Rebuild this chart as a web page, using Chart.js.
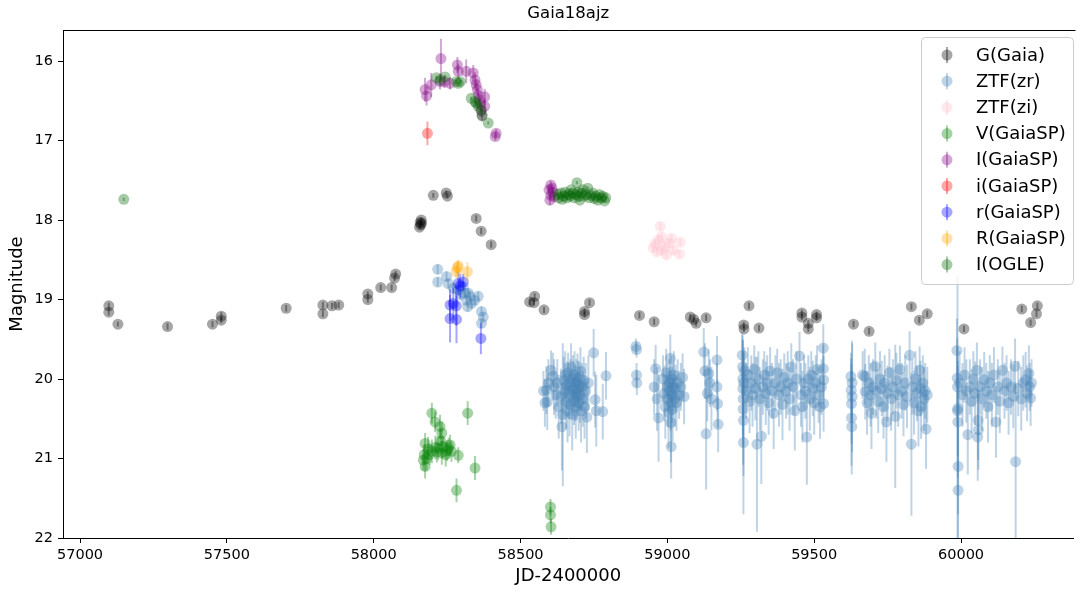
<!DOCTYPE html>
<html>
<head>
<meta charset="utf-8">
<script src="https://cdn.jsdelivr.net/npm/chart.js@4.4.1/dist/chart.umd.min.js"></script>
<style>
  html, body { margin: 0; background: #fff; }
  #wrap { width: 1079px; height: 591px; position: relative; }
</style>
</head>
<body>
<div id="wrap"><canvas id="lc"></canvas></div>
<script>
/* Gaia18ajz light curve: magnitude (reversed) vs JD-2400000, points with error bars */

const X_TICKS = [57000, 57500, 58000, 58500, 59000, 59500, 60000];
const Y_TICKS = [16, 17, 18, 19, 20, 21, 22];

// each row: [JD-2400000, mag, err]
const gaiaG = [
  [57098, 19.08, 0.04], [57098, 19.16, 0.04], [57129, 19.31, 0.03], [57298, 19.34, 0.04],
  [57451, 19.31, 0.04], [57481, 19.21, 0.05], [57481, 19.26, 0.04], [57702, 19.11, 0.04],
  [57827, 19.07, 0.04], [57827, 19.18, 0.04], [57858, 19.08, 0.04], [57881, 19.07, 0.04],
  [57980, 18.93, 0.03], [57980, 19.00, 0.04], [58024, 18.85, 0.04], [58061, 18.85, 0.04],
  [58071, 18.73, 0.04], [58075, 18.68, 0.04], [58156, 18.09, 0.03], [58158, 18.03, 0.03],
  [58160, 18.06, 0.03], [58162, 18.00, 0.03], [58163, 18.04, 0.03], [58203, 17.69, 0.03],
  [58247, 17.66, 0.03], [58251, 17.70, 0.03], [58349, 17.98, 0.04], [58366, 18.14, 0.04],
  [58400, 18.31, 0.04], [58531, 19.03, 0.04], [58548, 18.96, 0.04], [58546, 19.04, 0.04],
  [58580, 19.13, 0.04], [58735, 19.04, 0.04], [58718, 19.15, 0.04], [58718, 19.19, 0.04],
  [58905, 19.20, 0.04], [58955, 19.28, 0.04], [59078, 19.22, 0.04], [59090, 19.25, 0.04],
  [59098, 19.30, 0.04], [59132, 19.23, 0.04], [59278, 19.08, 0.04], [59260, 19.32, 0.04],
  [59261, 19.37, 0.04], [59312, 19.36, 0.04], [59458, 19.17, 0.04], [59458, 19.22, 0.04],
  [59480, 19.30, 0.04], [59480, 19.37, 0.04], [59508, 19.19, 0.04], [59508, 19.23, 0.04],
  [59634, 19.31, 0.04], [59687, 19.40, 0.04], [59831, 19.09, 0.04], [59858, 19.26, 0.04],
  [59885, 19.18, 0.04], [60010, 19.37, 0.04], [60207, 19.12, 0.04], [60260, 19.08, 0.04],
  [60257, 19.18, 0.04], [60237, 19.29, 0.04]
];

const ztfZr = [
  // 2018 outburst
  [58218, 18.62, 0.06], [58218, 18.78, 0.06], [58248, 18.71, 0.06], [58254, 18.80, 0.06],
  [58271, 18.86, 0.06], [58288, 18.88, 0.06], [58295, 18.94, 0.06], [58305, 18.84, 0.06],
  [58311, 18.92, 0.06], [58316, 19.01, 0.06], [58320, 19.09, 0.06], [58322, 18.92, 0.06],
  [58328, 18.96, 0.06], [58333, 19.05, 0.06], [58344, 19.01, 0.06], [58356, 18.96, 0.06],
  [58367, 19.15, 0.06], [58373, 19.22, 0.06], [58367, 19.30, 0.06],
  // 2019
  [58578, 20.15, 0.25], [58583, 20.30, 0.3], [58588, 20.14, 0.3], [58591, 20.29, 0.35],
  [58595, 20.05, 0.3], [58604, 19.89, 0.25], [58610, 19.97, 0.3], [58614, 20.10, 0.35],
  [58620, 20.20, 0.3], [58625, 20.05, 0.3], [58630, 20.35, 0.4], [58638, 20.22, 0.35],
  [58641, 20.60, 0.55], [58644, 20.45, 0.9], [58647, 20.02, 0.3], [58650, 20.15, 0.35],
  [58652, 19.95, 0.3], [58655, 20.28, 0.35], [58658, 20.08, 0.3], [58660, 20.40, 0.4],
  [58662, 19.92, 0.25], [58665, 20.15, 0.35], [58667, 20.32, 0.4], [58670, 20.05, 0.3],
  [58672, 19.85, 0.3], [58674, 20.20, 0.3], [58676, 20.45, 0.45], [58678, 20.00, 0.3],
  [58680, 20.12, 0.35], [58682, 20.28, 0.3], [58684, 19.95, 0.3], [58686, 20.18, 0.35],
  [58688, 20.35, 0.4], [58690, 20.05, 0.3], [58692, 20.22, 0.3], [58694, 19.98, 0.3],
  [58696, 20.12, 0.35], [58698, 20.30, 0.35], [58700, 20.08, 0.3], [58702, 20.20, 0.35],
  [58704, 19.90, 0.3], [58706, 20.40, 0.4], [58709, 20.10, 0.3], [58712, 20.25, 0.35],
  [58715, 20.02, 0.3], [58718, 20.35, 0.4], [58722, 20.15, 0.35], [58726, 20.48, 0.45],
  [58731, 20.05, 0.35], [58749, 19.67, 0.3], [58754, 20.26, 0.35], [58758, 20.40, 0.45],
  [58780, 20.41, 0.35], [58791, 19.96, 0.3],
  // 2020
  [58893, 19.59, 0.1], [58895, 19.63, 0.1], [58895, 19.95, 0.15], [58896, 20.05, 0.15],
  [58955, 20.10, 0.35], [58960, 19.87, 0.3], [58965, 20.25, 0.4], [58970, 20.49, 0.55],
  [58985, 20.00, 0.3], [58990, 20.18, 0.35], [58993, 20.35, 0.4], [58996, 19.92, 0.3],
  [58999, 20.10, 0.3], [59002, 20.25, 0.35], [59004, 20.42, 0.45], [59006, 20.05, 0.3],
  [59008, 20.15, 0.3], [59010, 19.74, 0.3], [59011, 20.30, 0.35], [59012, 20.55, 0.5],
  [59013, 20.85, 0.4], [59014, 20.00, 0.3], [59016, 20.20, 0.35], [59018, 20.38, 0.4],
  [59020, 20.10, 0.3], [59022, 19.95, 0.3], [59025, 20.25, 0.35], [59028, 20.12, 0.3],
  [59031, 20.30, 0.35], [59035, 20.05, 0.3], [59040, 20.20, 0.3], [59046, 20.10, 0.3],
  [59052, 19.98, 0.3], [59057, 20.22, 0.35],
  [59124, 19.66, 0.3], [59128, 19.90, 0.35], [59132, 20.69, 0.7], [59136, 20.18, 0.35],
  [59141, 19.93, 0.3], [59145, 20.05, 0.3], [59150, 20.25, 0.4], [59169, 19.76, 0.3],
  [59169, 20.10, 0.3], [59171, 20.31, 0.3], [59173, 20.57, 0.35],
  // 2021
  [59255, 19.70, 0.3], [59256, 19.85, 0.4], [59257, 20.00, 0.5], [59257, 20.12, 0.6],
  [59258, 20.25, 0.6], [59258, 20.38, 0.7], [59259, 20.52, 0.7], [59259, 20.80, 0.9],
  [59260, 20.05, 0.4], [59262, 19.90, 0.3], [59268, 20.15, 0.35], [59274, 19.95, 0.35],
  [59280, 20.28, 0.4], [59286, 20.05, 0.35], [59290, 20.20, 0.4], [59296, 19.88, 0.3],
  [59300, 20.12, 0.4], [59305, 20.82, 1.1], [59310, 20.00, 0.35], [59315, 20.25, 0.4],
  [59320, 20.72, 0.6], [59325, 20.10, 0.35], [59330, 19.95, 0.3], [59335, 20.18, 0.4],
  [59340, 20.05, 0.35], [59345, 20.30, 0.4], [59350, 19.90, 0.3], [59356, 20.15, 0.35],
  [59362, 20.43, 0.45], [59368, 20.05, 0.35], [59374, 19.92, 0.3], [59380, 20.20, 0.4],
  [59386, 20.10, 0.35], [59392, 20.32, 0.45], [59398, 19.98, 0.3], [59404, 20.15, 0.35],
  [59410, 20.05, 0.4], [59416, 20.25, 0.4], [59422, 19.85, 0.3], [59428, 20.10, 0.35],
  [59434, 20.40, 0.5], [59440, 20.00, 0.35], [59450, 19.71, 0.3], [59455, 20.20, 0.4],
  [59460, 20.35, 0.45], [59465, 20.05, 0.35], [59470, 20.15, 0.35], [59475, 20.73, 0.6],
  [59480, 20.00, 0.3], [59485, 20.25, 0.4], [59490, 19.95, 0.3], [59495, 20.12, 0.35],
  [59500, 20.30, 0.4], [59505, 20.05, 0.35], [59510, 19.88, 0.3], [59515, 20.20, 0.35],
  [59520, 20.35, 0.4], [59525, 20.10, 0.35], [59531, 19.61, 0.3], [59531, 19.87, 0.3],
  [59532, 20.01, 0.3], [59532, 20.31, 0.35],
  // 2022
  [59625, 19.97, 0.3], [59626, 20.14, 0.4], [59627, 20.31, 0.5], [59627, 20.49, 0.6],
  [59628, 20.60, 0.6], [59629, 20.05, 0.5], [59629, 20.22, 0.7], [59665, 19.95, 0.3],
  [59672, 19.97, 0.35], [59674, 20.16, 0.35], [59680, 20.30, 0.4], [59686, 20.05, 0.35],
  [59692, 20.20, 0.4], [59695, 20.43, 0.45], [59700, 20.10, 0.35], [59708, 19.84, 0.3],
  [59712, 20.15, 0.35], [59718, 20.28, 0.4], [59724, 20.00, 0.35], [59730, 20.12, 0.35],
  [59736, 20.35, 0.4], [59740, 20.05, 0.35], [59746, 20.54, 0.5], [59750, 20.18, 0.35],
  [59756, 19.92, 0.3], [59762, 20.25, 0.4], [59768, 20.10, 0.35], [59776, 20.47, 0.9],
  [59780, 20.02, 0.35], [59786, 20.20, 0.4], [59792, 19.88, 0.3], [59798, 20.15, 0.35],
  [59804, 20.32, 0.4], [59810, 20.05, 0.35], [59816, 20.22, 0.4], [59825, 19.70, 0.3],
  [59831, 20.82, 0.9], [59834, 20.10, 0.35], [59840, 20.30, 0.4], [59845, 20.00, 0.35],
  [59850, 20.18, 0.35], [59855, 20.40, 0.45], [59859, 19.89, 0.3], [59862, 20.12, 0.35],
  [59864, 20.35, 0.4], [59870, 20.05, 0.35], [59874, 20.25, 0.4], [59878, 20.15, 0.35],
  [59881, 20.63, 0.5], [59885, 20.20, 0.35],
  // 2023
  [59986, 19.64, 0.4], [59987, 19.99, 0.5], [59988, 20.40, 1.7], [59988, 20.10, 0.5],
  [59989, 20.37, 0.6], [59989, 20.54, 0.7], [59990, 21.10, 0.6], [59990, 21.40, 0.8],
  [59995, 20.05, 0.4], [60005, 20.20, 0.4], [60012, 19.95, 0.35], [60018, 20.15, 0.4],
  [60023, 20.70, 0.5], [60030, 20.10, 0.35], [60036, 20.28, 0.4], [60042, 20.00, 0.35],
  [60048, 20.18, 0.4], [60054, 19.89, 0.35], [60057, 20.73, 0.55], [60058, 20.52, 0.5],
  [60059, 20.64, 0.5], [60065, 20.10, 0.35], [60072, 20.25, 0.4], [60079, 20.01, 0.35],
  [60086, 20.15, 0.35], [60092, 20.35, 0.45], [60098, 20.05, 0.35], [60105, 20.20, 0.4],
  [60112, 19.95, 0.35], [60119, 20.54, 0.45], [60125, 20.10, 0.35], [60132, 20.28, 0.4],
  [60141, 19.89, 0.3], [60148, 20.15, 0.35], [60155, 20.05, 0.35], [60162, 20.30, 0.4],
  [60170, 20.10, 0.35], [60178, 20.22, 0.4], [60184, 19.84, 0.35], [60186, 21.04, 1.0],
  [60195, 20.12, 0.35], [60205, 20.25, 0.4], [60212, 20.05, 0.35], [60220, 20.01, 0.35],
  [60225, 20.18, 0.35], [60231, 19.93, 0.35], [60234, 20.10, 0.3], [60237, 20.24, 0.35],
  [60240, 20.05, 0.3]
];

const ztfZi = [
  [58952, 18.35, 0.05], [58958, 18.30, 0.05], [58965, 18.40, 0.05], [58970, 18.25, 0.05],
  [58976, 18.08, 0.05], [58980, 18.21, 0.05], [58983, 18.38, 0.05], [58990, 18.33, 0.05],
  [58997, 18.44, 0.05], [59007, 18.29, 0.05], [59014, 18.23, 0.05], [59020, 18.38, 0.05],
  [59044, 18.28, 0.05], [59041, 18.43, 0.05]
];

const gaiaSpV = [
  [58198, 20.43, 0.13], [58209, 20.54, 0.13], [58226, 20.60, 0.15], [58232, 20.68, 0.15],
  [58175, 20.81, 0.13], [58169, 21.02, 0.13], [58175, 21.10, 0.15], [58198, 20.91, 0.15],
  [58220, 20.87, 0.15], [58232, 20.93, 0.15], [58260, 20.83, 0.13], [58265, 20.91, 0.13],
  [58288, 20.96, 0.1], [58320, 20.43, 0.15], [58345, 21.12, 0.15], [58282, 21.40, 0.15],
  [58185, 20.88, 0.15], [58190, 20.95, 0.13], [58210, 20.86, 0.15], [58215, 20.92, 0.13],
  [58237, 20.85, 0.13], [58250, 20.90, 0.13], [58255, 20.87, 0.13], [58245, 20.95, 0.15],
  [58228, 20.78, 0.15], [58180, 21.00, 0.15], [58172, 20.95, 0.13],
  [58602, 21.61, 0.1], [58602, 21.71, 0.1], [58604, 21.86, 0.1]
];

const gaiaSpI = [
  [58175, 16.36, 0.15], [58180, 16.44, 0.12], [58196, 16.30, 0.15], [58229, 15.97, 0.25],
  [58226, 16.26, 0.1], [58241, 16.26, 0.08], [58260, 16.28, 0.08], [58285, 16.05, 0.1],
  [58288, 16.13, 0.1], [58315, 16.13, 0.15], [58339, 16.15, 0.1], [58345, 16.24, 0.1],
  [58349, 16.30, 0.08], [58353, 16.36, 0.08], [58356, 16.43, 0.08], [58359, 16.49, 0.08],
  [58363, 16.55, 0.08], [58366, 16.62, 0.08], [58369, 16.68, 0.08], [58378, 16.45, 0.1],
  [58378, 16.57, 0.1], [58414, 16.95, 0.05], [58417, 16.91, 0.05],
  [58597, 17.62, 0.05], [58603, 17.56, 0.05], [58603, 17.69, 0.05], [58610, 17.65, 0.05],
  [58600, 17.75, 0.06], [58607, 17.60, 0.05], [58614, 17.71, 0.05]
];

const gaiaSpIlow = [[58183, 16.91, 0.15]];

const gaiaSpR = [
  [58288, 18.80, 0.15], [58295, 18.83, 0.15], [58305, 18.78, 0.1], [58260, 19.07, 0.2],
  [58271, 19.05, 0.2], [58281, 19.08, 0.25], [58260, 19.24, 0.3], [58282, 19.25, 0.3],
  [58365, 19.49, 0.2]
];

const gaiaSpRcap = [
  [58285, 18.60, 0.08], [58281, 18.65, 0.08], [58319, 18.65, 0.12], [58288, 18.58, 0.08]
];

const ogleI = [
  [57149, 17.74, 0.02],
  [58214, 16.21, 0.02], [58226, 16.24, 0.02], [58243, 16.20, 0.02], [58281, 16.26, 0.02],
  [58288, 16.28, 0.02], [58295, 16.26, 0.02], [58332, 16.47, 0.02], [58345, 16.51, 0.02],
  [58349, 16.53, 0.02], [58356, 16.57, 0.02], [58366, 16.62, 0.02], [58369, 16.69, 0.02],
  [58390, 16.78, 0.02],
  [58627, 17.68, 0.02], [58630, 17.72, 0.02], [58637, 17.66, 0.02], [58642, 17.74, 0.02],
  [58647, 17.70, 0.02], [58652, 17.65, 0.02], [58658, 17.72, 0.02], [58663, 17.68, 0.02],
  [58668, 17.70, 0.02], [58672, 17.62, 0.02], [58678, 17.66, 0.02], [58683, 17.72, 0.02],
  [58688, 17.68, 0.02], [58692, 17.53, 0.02], [58695, 17.65, 0.02], [58699, 17.70, 0.02],
  [58702, 17.75, 0.02], [58708, 17.66, 0.02], [58712, 17.62, 0.02], [58717, 17.70, 0.02],
  [58722, 17.68, 0.02], [58729, 17.60, 0.02], [58734, 17.72, 0.02], [58740, 17.69, 0.02],
  [58746, 17.66, 0.02], [58752, 17.73, 0.02], [58756, 17.70, 0.02], [58763, 17.75, 0.02],
  [58769, 17.68, 0.02], [58775, 17.72, 0.02], [58780, 17.70, 0.02], [58786, 17.76, 0.02],
  [58790, 17.72, 0.02]
];

const SERIES = [
  { label: "G(Gaia)", rows: gaiaG, rgb: "0,0,0" },
  { label: "ZTF(zr)", rows: ztfZr, rgb: "70,130,180" },
  { label: "ZTF(zi)", rows: ztfZi, rgb: "255,192,203" },
  { label: "V(GaiaSP)", rows: gaiaSpV, rgb: "0,128,0" },
  { label: "I(GaiaSP)", rows: gaiaSpI, rgb: "128,0,128" },
  { label: "i(GaiaSP)", rows: gaiaSpIlow, rgb: "255,0,0" },
  { label: "r(GaiaSP)", rows: gaiaSpR, rgb: "0,0,255" },
  { label: "R(GaiaSP)", rows: gaiaSpRcap, rgb: "255,165,0" },
  { label: "I(OGLE)", rows: ogleI, rgb: "0,100,0" },
];

const ALPHA = 0.35;
const FONT = "'DejaVu Sans', sans-serif";
const rgba = (rgb) => `rgba(${rgb},${ALPHA})`;

// error bars drawn just before each dataset's markers, like matplotlib errorbar
const errorBars = {
  id: "errorBars",
  beforeDatasetDraw(chart, args) {
    const ds = chart.data.datasets[args.index];
    const { x, y } = chart.scales;
    const area = chart.chartArea;
    const ctx = chart.ctx;
    ctx.save();
    ctx.beginPath();
    ctx.rect(area.left, area.top, area.right - area.left, area.bottom - area.top);
    ctx.clip();
    ctx.strokeStyle = ds.backgroundColor;
    ctx.lineWidth = 2;
    ds.data.forEach((p) => {
      const px = x.getPixelForValue(p.x);
      ctx.beginPath();
      ctx.moveTo(px, y.getPixelForValue(p.y - p.e));
      ctx.lineTo(px, y.getPixelForValue(p.y + p.e));
      ctx.stroke();
    });
    ctx.restore();
  },
};

// top spine + legend box in the upper right
const frameAndLegend = {
  id: "frameAndLegend",
  afterDraw(chart) {
    const ctx = chart.ctx;
    const area = chart.chartArea;
    ctx.save();
    ctx.strokeStyle = "#000";
    ctx.lineWidth = 1;
    ctx.beginPath();
    ctx.moveTo(area.left, area.top + 0.5);
    ctx.lineTo(area.right + 2, area.top + 0.5);
    ctx.stroke();

    const bx = 921.5, by = 37.5, bw = 152, bh = 247;
    ctx.beginPath();
    ctx.roundRect(bx, by, bw, bh, 4);
    ctx.fillStyle = "rgba(255,255,255,0.8)";
    ctx.fill();
    ctx.strokeStyle = "#cccccc";
    ctx.stroke();

    ctx.font = `18px ${FONT}`;
    ctx.textBaseline = "middle";
    ctx.textAlign = "left";
    SERIES.forEach((s, i) => {
      const cy = 55 + i * 26.2;
      const mx = 947;
      ctx.strokeStyle = rgba(s.rgb);
      ctx.lineWidth = 2;
      ctx.beginPath();
      ctx.moveTo(mx, cy - 8);
      ctx.lineTo(mx, cy + 8);
      ctx.stroke();
      ctx.fillStyle = rgba(s.rgb);
      ctx.beginPath();
      ctx.arc(mx, cy, 5.5, 0, Math.PI * 2);
      ctx.fill();
      ctx.fillStyle = "#000";
      ctx.fillText(s.label, 976, cy + 1);
    });
    ctx.restore();
  },
};

new Chart(document.getElementById("lc"), {
  type: "scatter",
  data: {
    datasets: SERIES.map((s, i) => ({
      label: s.label,
      data: s.rows.map((r) => ({ x: r[0], y: r[1], e: r[2] })),
      backgroundColor: rgba(s.rgb),
      borderColor: "rgba(0,0,0,0)",
      borderWidth: 0,
      pointRadius: 5.5,
      pointHoverRadius: 5.5,
      order: SERIES.length - i,
    })),
  },
  options: {
    responsive: true,
    maintainAspectRatio: false,
    animation: false,
    events: [],
    layout: { padding: { left: 0, right: 1, top: 0, bottom: 0 } },
    plugins: {
      legend: { display: false },
      tooltip: { enabled: false },
      title: {
        display: true,
        fullSize: false,
        text: "Gaia18ajz",
        color: "#000",
        font: { family: FONT, size: 16.5, weight: "normal" },
        padding: { top: 4, bottom: 6.2 },
      },
    },
    scales: {
      x: {
        type: "linear",
        min: 56942,
        max: 60383,
        afterBuildTicks: (s) => { s.ticks = X_TICKS.map((v) => ({ value: v })); },
        afterFit: (s) => { s.height = 53; },
        ticks: { color: "#000", font: { family: FONT, size: 14.5 }, padding: 4, maxRotation: 0, autoSkip: false, callback: (v) => String(v) },
        grid: { drawOnChartArea: false, drawTicks: true, tickLength: 5, color: "#000" },
        border: { display: true, color: "#000", width: 1 },
        title: { display: true, text: "JD-2400000", color: "#000", font: { family: FONT, size: 18 }, padding: { bottom: 4 } },
      },
      y: {
        type: "linear",
        reverse: true,
        min: 15.61,
        max: 22,
        afterBuildTicks: (s) => { s.ticks = Y_TICKS.map((v) => ({ value: v })); },
        afterFit: (s) => { s.width = 63; },
        ticks: { color: "#000", font: { family: FONT, size: 14.5 }, padding: 5, callback: (v) => String(v) },
        grid: { drawOnChartArea: false, drawTicks: true, tickLength: 5, color: "#000" },
        border: { display: true, color: "#000", width: 1 },
        title: { display: true, text: "Magnitude", color: "#000", font: { family: FONT, size: 18 }, padding: { top: 7 } },
      },
    },
  },
  plugins: [errorBars, frameAndLegend],
});
</script>
</body>
</html>
